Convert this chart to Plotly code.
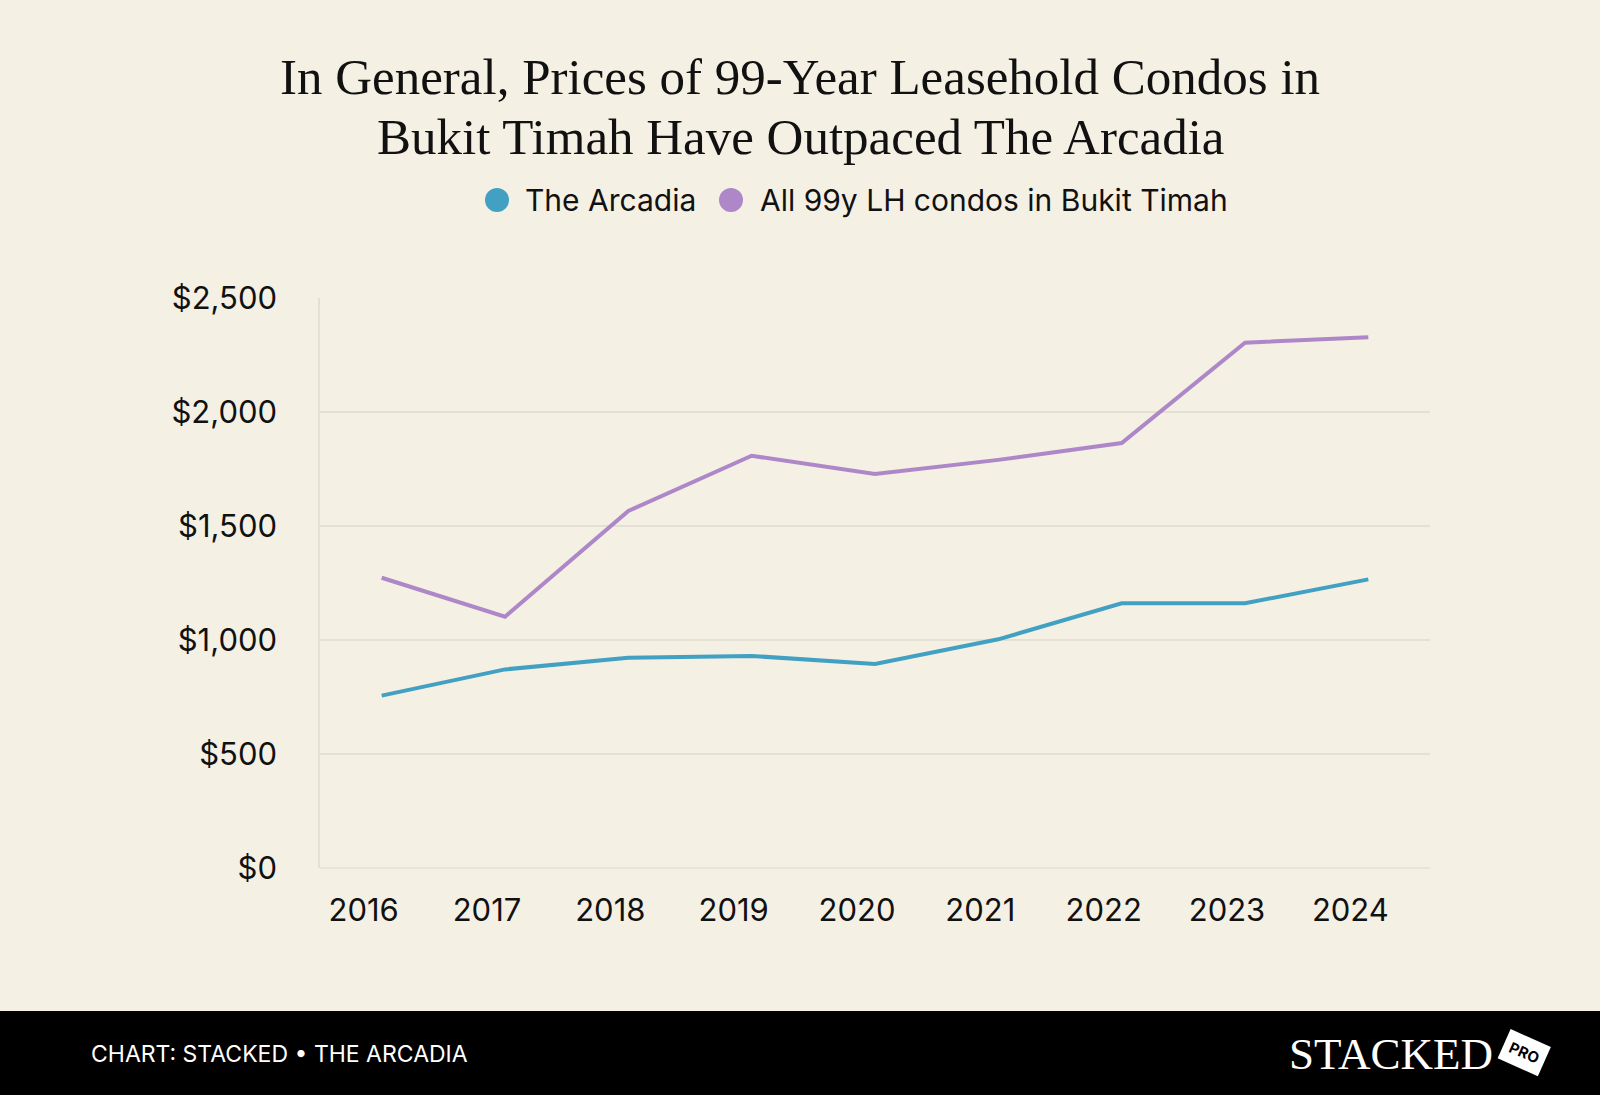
import plotly.graph_objects as go

# データ
years = ["2016", "2017", "2018", "2019", "2020", "2021", "2022", "2023", "2024"]
arcadia = [756, 871, 922, 930, 895, 1003, 1161, 1161, 1266]
bukit_timah_99lh = [1273, 1102, 1566, 1808, 1728, 1790, 1864, 2304, 2328]
y_ticks = [0, 500, 1000, 1500, 2000, 2500]
y_ticklabels = ["$0", "$500", "$1,000", "$1,500", "$2,000", "$2,500"]
series_names = ["The Arcadia", "All 99y LH condos in Bukit Timah"]

title_lines = [
    "In General, Prices of 99-Year Leasehold Condos in",
    "Bukit Timah Have Outpaced The Arcadia",
]
footer_text = "CHART: STACKED • THE ARCADIA"

BG = "#F4F0E4"
GRID = "#E5E0D4"
BLUE = "#42A0C3"
PURPLE = "#AE87C8"
INK = "#111111"

W, H = 1600, 1095
# plot area in pixels
L, R, T, B = 320, 1430, 298, 868


def px_x(x):
    return (x - L) / (R - L)


def px_y(y):
    return (B - y) / (B - T)


fig = go.Figure()
for name, vals, color in zip(series_names, [arcadia, bukit_timah_99lh], [BLUE, PURPLE]):
    fig.add_trace(go.Scatter(
        x=years, y=vals, mode="lines", name=name,
        line=dict(color=color, width=4), showlegend=False,
        hovertemplate="%{x}: $%{y:,}<extra></extra>"
    ))

fig.update_layout(
    width=W, height=H,
    margin=dict(l=L, r=W - R, t=T, b=H - B),
    paper_bgcolor=BG,
    plot_bgcolor=BG,
    font=dict(family="Inter, Roboto", size=30, color=INK),
    showlegend=False,
)
fig.update_xaxes(
    type="category",
    range=[-0.5, 8.5],
    showgrid=False,
    showline=False,
    zeroline=False,
    ticks="",
    ticklabelstandoff=21,
    ticklabelshift=-18,
    tickfont=dict(size=31, color=INK),
)
fig.update_yaxes(
    range=[0, 2500],
    tickvals=y_ticks,
    ticktext=y_ticklabels,
    showgrid=True,
    gridcolor=GRID,
    gridwidth=1.5,
    zeroline=False,
    showline=True,
    linecolor=GRID,
    linewidth=1.5,
    ticks="",
    ticklabelstandoff=35,
    tickfont=dict(size=31, color=INK),
)
# 下端の線
fig.add_shape(type="line", xref="paper", yref="paper", x0=0, x1=1, y0=0, y1=0,
              line=dict(color=GRID, width=1.5), layer="below")

# 凡例（丸＋テキスト）
legend_items = [(497, 523, BLUE), (731, 758, PURPLE)]
for (cx, tx, color), name in zip(legend_items, series_names):
    fig.add_shape(type="circle", xref="paper", yref="paper",
                  xsizemode="pixel", ysizemode="pixel",
                  xanchor=px_x(cx), yanchor=px_y(200),
                  x0=-12, x1=12, y0=-12, y1=12,
                  fillcolor=color, line=dict(width=0))
    fig.add_annotation(
        text=name, xref="paper", yref="paper",
        x=px_x(tx), y=px_y(200), xanchor="left", yanchor="middle",
        showarrow=False, font=dict(size=30, color=INK),
    )

# タイトル（2行を上下に接して配置）
fig.add_annotation(
    text=title_lines[0], xref="paper", yref="paper",
    x=px_x(800), y=px_y(106), xanchor="center", yanchor="bottom",
    showarrow=False, borderpad=0,
    font=dict(family="Liberation Serif, serif", size=51, color=INK),
)
fig.add_annotation(
    text=title_lines[1], xref="paper", yref="paper",
    x=px_x(800), y=px_y(108), xanchor="center", yanchor="top",
    showarrow=False, borderpad=0,
    font=dict(family="Liberation Serif, serif", size=51, color=INK),
)

# フッター
fig.add_shape(type="rect", xref="paper", yref="paper",
              x0=px_x(0), x1=px_x(W), y0=px_y(H + 5), y1=px_y(1011),
              fillcolor="#000000", line=dict(width=0), layer="above")
fig.add_annotation(
    text=footer_text, xref="paper", yref="paper",
    x=px_x(89), y=px_y(1054), xanchor="left", yanchor="middle",
    showarrow=False,
    font=dict(family="Inter, Roboto", size=23, color="#FFFFFF"),
)
fig.add_annotation(
    text="STACKED", xref="paper", yref="paper",
    x=px_x(1287), y=px_y(1054), xanchor="left", yanchor="middle",
    showarrow=False,
    font=dict(family="Liberation Serif, serif", size=45, color="#FFFFFF"),
)
fig.add_annotation(
    text="<b>PRO</b>", xref="paper", yref="paper",
    x=px_x(1524), y=px_y(1052), xanchor="center", yanchor="middle",
    showarrow=False, textangle=24,
    bgcolor="#FFFFFF", borderpad=6,
    font=dict(family="Inter, Roboto", size=15, color="#000000"),
)

fig.write_html(
    "out.html",
    config={"displayModeBar": False},
    post_script="document.body.style.margin='0';document.body.style.background='%s';" % BG,
)
